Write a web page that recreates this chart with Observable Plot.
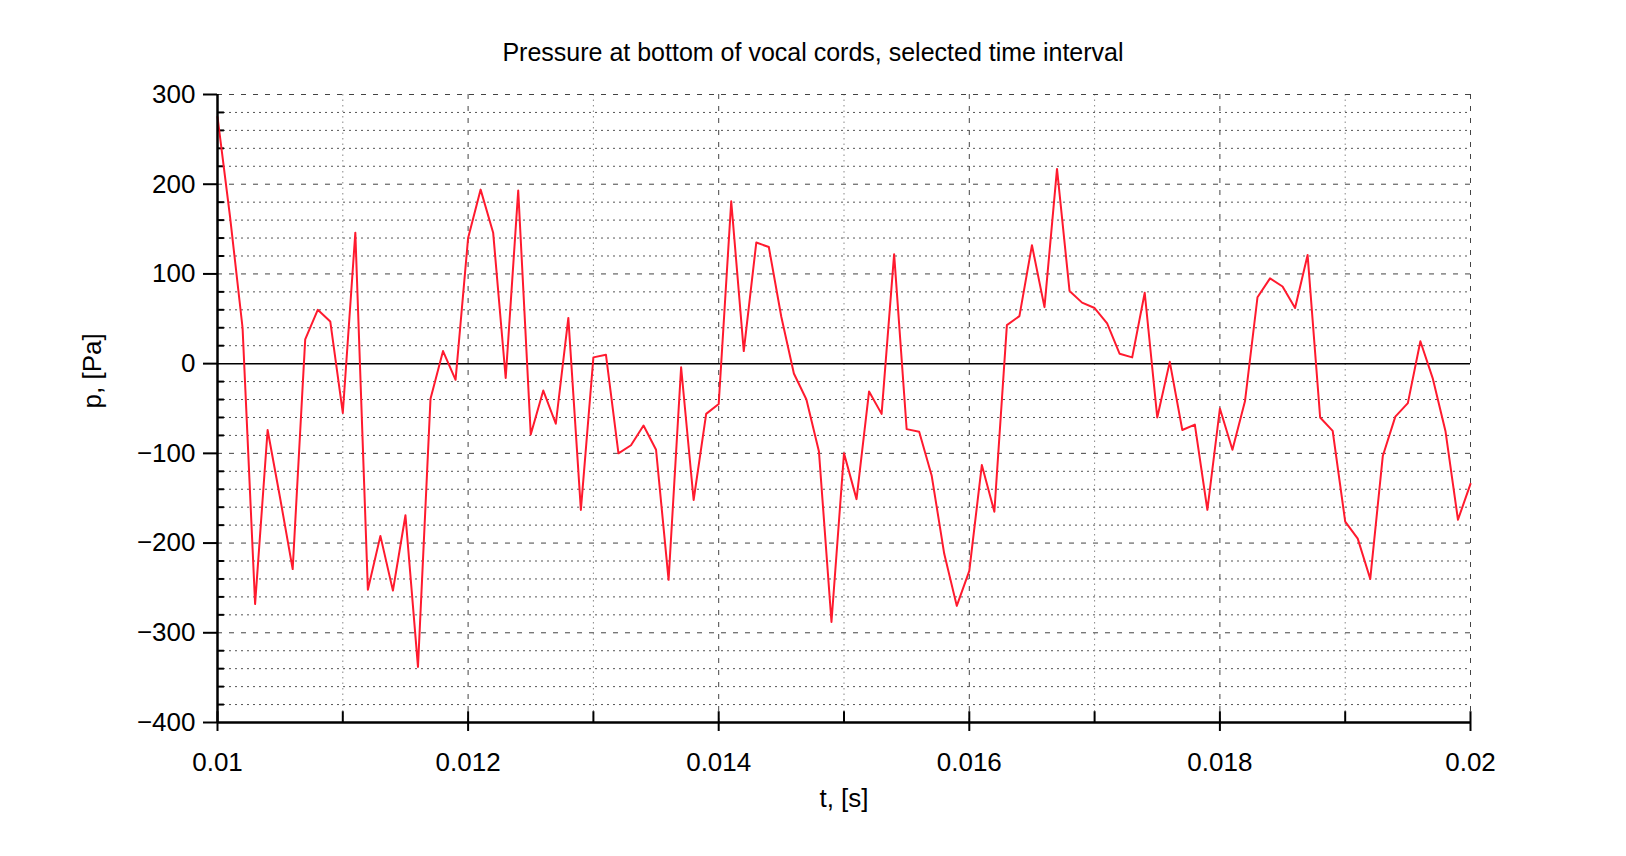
<!DOCTYPE html>
<html><head><meta charset="utf-8">
<script src="https://cdn.jsdelivr.net/npm/d3@7"></script>
<script src="https://cdn.jsdelivr.net/npm/@observablehq/plot@0.6"></script>
<style>body{margin:0;background:#fff;font-family:"Liberation Sans",Arial,sans-serif}
#t{height:70px;line-height:104px;text-align:center;font-size:25px}</style>
</head><body><div id="t">Pressure at bottom of vocal cords, selected time interval</div><div id="c"></div>
<script>
const t0 = 0.01, dt = 0.0001;
const pressure = [275,164,40,-268,-74,-150,-229,27,60,47,-55,146,-252,-192,-253,-169,-338,-39,14,-18,
140,194,146,-16,193,-79,-30,-67,51,-163,7,10,-100,-91,-69,-96,-241,-4,-152,-56,
-45,181,14,135,130,52,-11,-40,-98,-288,-100,-151,-31,-56,122,-73,-76,-125,-212,-270,
-231,-113,-165,43,53,132,63,217,81,68,62,45,11,7,79,-60,2,-74,-68,-163,
-50,-96,-42,74,95,86,62,121,-60,-75,-176,-195,-240,-103,-59,-44,25,-17,-75,-174,-134];
const xTicks = [0.01,0.012,0.014,0.016,0.018,0.02];
const xMinor = [0.011,0.013,0.015,0.017,0.019];
const yTicks = [-400,-300,-200,-100,0,100,200,300];
const data = pressure.map((p,i)=>({t:+(t0+i*dt).toFixed(5), p}));
const yMinor = d3.range(-380,300,20).filter(v=>v%100!==0);
const yMajorGrid = yTicks.filter(v=>v!==0 && v!==-400);
const chart = Plot.plot({
  width:1626, height:786, marginLeft:217, marginRight:156, marginTop:24, marginBottom:134,
  style:{fontSize:"26px", fontFamily:"Liberation Sans, Arial, sans-serif", color:"#000", background:"#fff"},
  x:{type:"linear", domain:[0.01,0.02]}, y:{type:"linear", domain:[-400,300]},
  marks:[
    Plot.ruleY(yMinor,{stroke:"#555",strokeDasharray:"2,4",strokeWidth:1}),
    Plot.ruleY(yMajorGrid,{stroke:"#444",strokeDasharray:"5,7",strokeWidth:1}),
    Plot.ruleX(xMinor,{stroke:"#888",strokeDasharray:"1.5,4",strokeWidth:1}),
    Plot.ruleX(xTicks.slice(1),{stroke:"#444",strokeDasharray:"5,7",strokeWidth:1}),
    Plot.ruleY([300],{stroke:"#444",strokeDasharray:"5,7"}),
    Plot.ruleY([0],{stroke:"#000",strokeWidth:1.5}),
    Plot.axisY(yTicks,{tickSize:14,tickPadding:8,fontSize:26,label:null,strokeWidth:2}),
    Plot.ruleY(yMinor,{x1:0.01,x2:0.010055,stroke:"#000",strokeWidth:2}),
    Plot.axisX(xTicks,{tickSize:0,tickPadding:30,fontSize:26,label:null,tickFormat:d=>String(d)}),
    Plot.line(data,{x:"t",y:"p",stroke:"#ff1a2e",strokeWidth:2}),
    Plot.ruleX([0.01],{stroke:"#000",strokeWidth:2.5}),
    Plot.ruleY([-400],{stroke:"#000",strokeWidth:2.5}),
    Plot.ruleX(xTicks.concat(xMinor),{y1:-400,y2:-388,stroke:"#000",strokeWidth:2}),
    Plot.ruleX(xTicks,{y1:-400,y2:-410,stroke:"#000",strokeWidth:2,clip:false}),
    Plot.text(["t, [s]"],{frameAnchor:"bottom",dy:84,fontSize:26}),
    Plot.text(["p, [Pa]"],{frameAnchor:"left",dx:-125,rotate:-90,fontSize:26})
  ]
});
document.getElementById("c").appendChild(chart);
</script></body></html>
